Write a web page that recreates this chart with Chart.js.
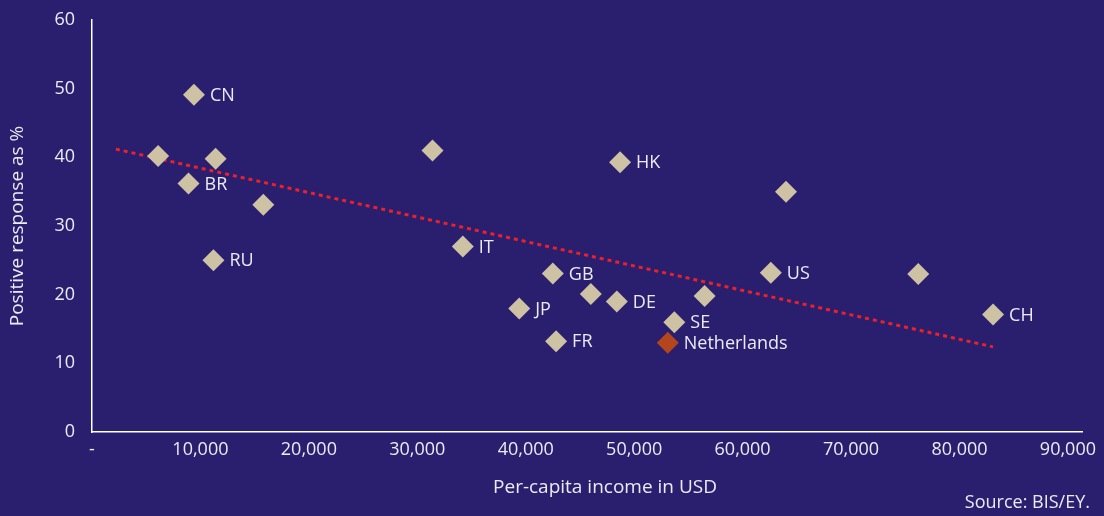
<!DOCTYPE html>
<html>
<head>
<meta charset="utf-8">
<script src="https://cdn.jsdelivr.net/npm/chart.js@4/dist/chart.umd.min.js"></script>
<style>
    html, body { margin: 0; padding: 0; background: #2a1e6e; }
    .chartBox { width: 1104px; height: 516px; }
</style>
</head>
<body>
<div class="chartBox"><canvas id="incomeResponseChart"></canvas></div>
<script>
// country codes, per-capita income (USD) and positive response (%)
const countries = ['CN', '', '', 'BR', '', 'RU', '', 'IT', 'HK', 'GB', '', 'DE', 'JP', 'FR', 'SE', 'Netherlands', '', 'US', '', '', 'CH'];
const incomes = [9400, 6100, 11400, 8900, 15800, 11200, 31400, 34200, 48700, 42500, 46000, 48400, 39400, 42800, 53700, 53100, 56500, 62600, 64000, 76200, 83100];
const responses = [49.1, 40.2, 39.8, 36.2, 33.1, 25.0, 41.0, 27.0, 39.3, 23.1, 20.1, 19.0, 18.0, 13.2, 16.0, 13.0, 19.8, 23.2, 35.0, 23.0, 17.1];

// linear trend line, start and end
const trendIncome = [2200, 83100];
const trendResponse = [41.2, 12.4];

const xTicks = [0, 10000, 20000, 30000, 40000, 50000, 60000, 70000, 80000, 90000];
const yTicks = [0, 10, 20, 30, 40, 50, 60];

const textColor = '#ecebf4';
const fontFamily = "'Open Sans', 'Noto Sans', sans-serif";

let points = incomes.map((x, i) => ({x: x, y: responses[i]}));
let pointColors = countries.map(c => c === 'Netherlands' ? '#b3461c' : '#cdc3a4');
let trendPoints = trendIncome.map((x, i) => ({x: x, y: trendResponse[i]}));

const backgroundPlugin = {
    id: 'background',
    beforeDraw(chart) {
        let ctx = chart.ctx;
        ctx.save();
        ctx.fillStyle = '#2a1e6e';
        ctx.fillRect(0, 0, chart.width, chart.height);
        ctx.restore();
    }
};

const pointLabelsPlugin = {
    id: 'pointLabels',
    afterDatasetsDraw(chart) {
        let ctx = chart.ctx;
        let meta = chart.getDatasetMeta(0);
        ctx.save();
        ctx.fillStyle = textColor;
        ctx.font = '18px ' + fontFamily;
        ctx.textBaseline = 'middle';
        ctx.textAlign = 'left';
        meta.data.forEach((pt, i) => {
            if (countries[i]) {
                ctx.fillText(countries[i], pt.x + 16, pt.y + 1);
            }
        });
        // x axis title (sits right of centre in the original) and source note
        ctx.textAlign = 'center';
        ctx.font = '19px ' + fontFamily;
        ctx.fillText('Per-capita income in USD', 605, 488);
        ctx.textAlign = 'right';
        ctx.font = '18px ' + fontFamily;
        ctx.fillText('Source: BIS/EY.', 1090, 503);
        ctx.restore();
    }
};

new Chart(document.getElementById('incomeResponseChart'), {
    type: 'scatter',
    data: {
        datasets: [
            {
                data: points,
                pointStyle: 'rectRot',
                pointRadius: 11,
                pointHoverRadius: 11,
                backgroundColor: pointColors,
                borderColor: pointColors,
                borderWidth: 0,
                order: 1
            },
            {
                data: trendPoints,
                showLine: true,
                borderColor: '#e8212c',
                borderWidth: 3,
                borderDash: [4, 4],
                pointRadius: 0,
                fill: false,
                order: 2
            }
        ]
    },
    options: {
        responsive: true,
        maintainAspectRatio: false,
        animation: false,
        layout: {
            padding: {top: 20, right: 22, left: 0, bottom: 0}
        },
        scales: {
            x: {
                type: 'linear',
                min: 0,
                max: 91300,
                grid: {display: false, drawTicks: false},
                border: {display: true, color: '#ffffff', width: 1.5},
                afterBuildTicks: scale => { scale.ticks = xTicks.map(v => ({value: v})); },
                ticks: {
                    padding: 7,
                    color: textColor,
                    font: {family: fontFamily, size: 18},
                    maxRotation: 0,
                    autoSkip: false,
                    callback: value => value === 0 ? '-' : value.toLocaleString('en-US')
                },
                afterFit: scale => {
                    scale.height = 84;
                    scale.paddingLeft = 0;
                    scale.paddingRight = 0;
                }
            },
            y: {
                min: 0,
                max: 60,
                grid: {display: false, drawTicks: false},
                border: {display: true, color: '#ffffff', width: 1.5},
                afterBuildTicks: scale => { scale.ticks = yTicks.map(v => ({value: v})); },
                ticks: {
                    padding: 17,
                    color: textColor,
                    font: {family: fontFamily, size: 18}
                },
                title: {
                    display: true,
                    text: 'Positive response as %',
                    color: textColor,
                    font: {family: fontFamily, size: 19},
                    padding: {top: 6, bottom: 0}
                },
                afterFit: scale => {
                    scale.width = 92;
                    scale.paddingTop = 0;
                    scale.paddingBottom = 0;
                }
            }
        },
        plugins: {
            legend: {display: false},
            tooltip: {enabled: false},
            title: {display: false}
        }
    },
    plugins: [backgroundPlugin, pointLabelsPlugin]
});
</script>
</body>
</html>
